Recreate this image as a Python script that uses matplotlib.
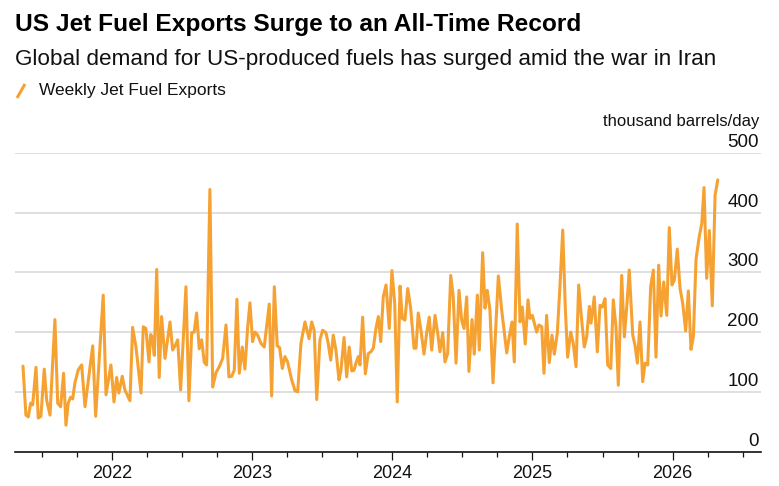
import matplotlib
matplotlib.use("Agg")
import matplotlib.pyplot as plt
import matplotlib.transforms as mtransforms
from matplotlib.lines import Line2D
from matplotlib.ticker import MultipleLocator

# ---------------- data ----------------
# time of each weekly observation, in decimal years
week_time = [
    2021.361, 2021.382, 2021.399, 2021.416, 2021.430, 2021.454, 2021.470, 2021.489,
    2021.513, 2021.530, 2021.554, 2021.589, 2021.609, 2021.630, 2021.651, 2021.668,
    2021.684, 2021.701, 2021.716, 2021.732, 2021.756, 2021.780, 2021.804, 2021.859,
    2021.880, 2021.934, 2021.954, 2021.989, 2022.011, 2022.030, 2022.046, 2022.070,
    2022.089, 2022.125, 2022.144, 2022.168, 2022.204, 2022.220, 2022.239, 2022.261,
    2022.273, 2022.284, 2022.299, 2022.316, 2022.334, 2022.351, 2022.375, 2022.411,
    2022.430, 2022.449, 2022.466, 2022.487, 2022.525, 2022.546, 2022.566, 2022.584,
    2022.601, 2022.620, 2022.637, 2022.656, 2022.673, 2022.696, 2022.716, 2022.739,
    2022.763, 2022.787, 2022.811, 2022.832, 2022.851, 2022.870, 2022.889, 2022.906,
    2022.927, 2022.946, 2022.966, 2022.982, 2023.001, 2023.018, 2023.037, 2023.061,
    2023.084, 2023.120, 2023.137, 2023.156, 2023.177, 2023.194, 2023.213, 2023.232,
    2023.251, 2023.280, 2023.304, 2023.323, 2023.346, 2023.375, 2023.404, 2023.423,
    2023.441, 2023.459, 2023.482, 2023.501, 2023.525, 2023.541, 2023.559, 2023.577,
    2023.596, 2023.618, 2023.632, 2023.654, 2023.673, 2023.691, 2023.709, 2023.725,
    2023.739, 2023.756, 2023.768, 2023.787, 2023.806, 2023.827, 2023.846, 2023.863,
    2023.882, 2023.899, 2023.916, 2023.934, 2023.954, 2023.977, 2023.996, 2024.016,
    2024.034, 2024.054, 2024.070, 2024.089, 2024.109, 2024.130, 2024.154, 2024.168,
    2024.184, 2024.204, 2024.225, 2024.244, 2024.263, 2024.280, 2024.304, 2024.323,
    2024.339, 2024.359, 2024.375, 2024.394, 2024.416, 2024.434, 2024.454, 2024.475,
    2024.494, 2024.511, 2024.530, 2024.546, 2024.568, 2024.584, 2024.606, 2024.620,
    2024.644, 2024.661, 2024.677, 2024.696, 2024.718, 2024.756, 2024.780, 2024.816,
    2024.834, 2024.854, 2024.870, 2024.891, 2024.911, 2024.927, 2024.948, 2024.968,
    2024.982, 2024.999, 2025.013, 2025.030, 2025.046, 2025.066, 2025.082, 2025.101,
    2025.120, 2025.139, 2025.156, 2025.177, 2025.196, 2025.216, 2025.234, 2025.251,
    2025.273, 2025.291, 2025.311, 2025.330, 2025.351, 2025.370, 2025.387, 2025.406,
    2025.418, 2025.441, 2025.463, 2025.482, 2025.499, 2025.518, 2025.537, 2025.559,
    2025.577, 2025.596, 2025.613, 2025.637, 2025.656, 2025.675, 2025.691, 2025.716,
    2025.732, 2025.749, 2025.768, 2025.787, 2025.804, 2025.823, 2025.844, 2025.863,
    2025.882, 2025.901, 2025.918, 2025.937, 2025.959, 2025.977, 2025.996, 2026.013,
    2026.034, 2026.054, 2026.073, 2026.094, 2026.113, 2026.132, 2026.149, 2026.168,
    2026.191, 2026.209, 2026.225, 2026.244, 2026.263, 2026.284, 2026.304, 2026.323,
]

# weekly jet fuel exports, thousand barrels/day
exports = [
    143, 61, 58, 81, 78, 141, 56, 59,
    138, 86, 61, 221, 81, 75, 131, 44,
    81, 91, 88, 115, 137, 145, 75, 177,
    59, 262, 95, 145, 83, 124, 98, 126,
    103, 85, 208, 175, 98, 209, 206, 150,
    196, 192, 161, 305, 124, 226, 156, 217,
    170, 178, 187, 103, 276, 85, 199, 200,
    232, 172, 187, 149, 145, 439, 108, 132,
    142, 156, 212, 125, 126, 136, 255, 131,
    175, 138, 209, 249, 184, 200, 195, 181,
    175, 247, 93, 276, 177, 174, 139, 159,
    150, 120, 102, 100, 181, 217, 189, 217,
    203, 87, 187, 203, 199, 181, 153, 195,
    170, 120, 136, 191, 125, 175, 135, 136,
    148, 159, 145, 225, 130, 164, 167, 173,
    206, 226, 184, 259, 279, 206, 303, 248,
    83, 277, 223, 220, 273, 240, 173, 173,
    232, 202, 163, 198, 225, 170, 228, 198,
    167, 199, 150, 164, 295, 259, 148, 270,
    220, 206, 259, 134, 221, 163, 262, 170,
    333, 240, 270, 237, 115, 294, 237, 165,
    192, 217, 150, 381, 217, 242, 180, 254,
    223, 228, 215, 200, 212, 209, 131, 228,
    149, 195, 163, 198, 276, 371, 242, 158,
    200, 181, 142, 279, 220, 175, 192, 243,
    215, 259, 167, 245, 242, 256, 145, 139,
    254, 209, 111, 295, 192, 248, 304, 195,
    178, 148, 217, 117, 148, 145, 276, 304,
    158, 312, 227, 284, 228, 375, 279, 287,
    339, 273, 248, 202, 269, 171, 192, 322,
    360, 382, 442, 290, 370, 244, 429, 455,
]

year_ticks = [2022, 2023, 2024, 2025, 2026]
year_labels = ["2022", "2023", "2024", "2025", "2026"]
value_ticks = [0, 100, 200, 300, 400, 500]

title = "US Jet Fuel Exports Surge to an All-Time Record"
subtitle = "Global demand for US-produced fuels has surged amid the war in Iran"
series_name = "Weekly Jet Fuel Exports"
unit_label = "thousand barrels/day"

# ---------------- style ----------------
ORANGE = "#F6A233"
GRID = "#d6d6d6"
FONT = ["Liberation Sans", "DejaVu Sans"]
plt.rcParams["font.family"] = FONT

W, H = 779, 486
fig = plt.figure(figsize=(W / 100, H / 100), dpi=100)

ax_left, ax_right, ax_bottom, ax_top = 15, 761, 451.5, 153
ax = fig.add_axes([ax_left / W, 1 - ax_bottom / H,
                   (ax_right - ax_left) / W, (ax_bottom - ax_top) / H])

ax.plot(week_time, exports, color=ORANGE, lw=2.2,
        solid_joinstyle="round", solid_capstyle="round", zorder=3)

ax.set_xlim(2021.304, 2026.632)
ax.set_ylim(0, 500)

for s in ["left", "right", "top"]:
    ax.spines[s].set_visible(False)
ax.spines["bottom"].set_linewidth(1.2)
ax.spines["bottom"].set_color("#111111")

# horizontal gridlines
for v in value_ticks[1:]:
    ax.axhline(v, color=GRID, lw=1.1, zorder=1)

ax.set_yticks([])

# x ticks
ax.set_xticks(year_ticks)
ax.set_xticklabels(year_labels)
ax.xaxis.set_minor_locator(MultipleLocator(0.25))
ax.tick_params(axis="x", which="major", length=5.5, width=0.9, color="#111111",
               direction="out", pad=4, labelsize=13, labelcolor="#111111")
ax.tick_params(axis="x", which="minor", length=3.5, width=0.9, color="#111111",
               direction="out")

# y value labels: right-aligned above their gridlines
lab_tr = mtransforms.offset_copy(ax.get_yaxis_transform(), fig=fig, x=-2, y=6, units="dots")
for v in value_ticks:
    ax.text(1.0, v, str(v), transform=lab_tr, ha="right", va="baseline",
            fontsize=13.5, color="#111111")

# unit label
fig.text((ax_right - 2) / W, 1 - 126 / H, unit_label, ha="right", va="baseline",
         fontsize=12, color="#111111")

# title / subtitle / legend
renderer = fig.canvas.get_renderer()

def fit(t, target_px):
    w = t.get_window_extent(renderer).width
    t.set_fontsize(t.get_fontsize() * target_px / w)

t1 = fig.text(15 / W, 1 - 31.5 / H, title, ha="left", va="baseline",
              fontsize=16, fontweight="bold", color="#000000")
fit(t1, 565)
t2 = fig.text(15 / W, 1 - 65 / H, subtitle, ha="left", va="baseline",
              fontsize=15, color="#111111")
fit(t2, 700)
t3 = fig.text(39 / W, 1 - 95 / H, series_name, ha="left", va="baseline",
              fontsize=12, color="#111111")
fit(t3, 188)

fig.add_artist(Line2D([17 / W, 25 / W], [1 - 98 / H, 1 - 84 / H],
                      transform=fig.transFigure, color=ORANGE, lw=2.2,
                      solid_capstyle="butt"))

fig.savefig("out.png", dpi=100, facecolor="white")
